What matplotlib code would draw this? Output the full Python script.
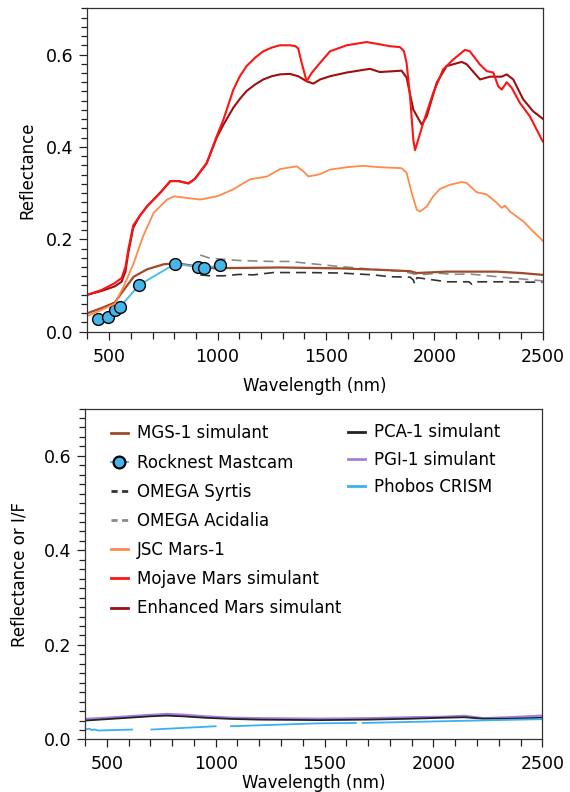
import numpy as np
import matplotlib
matplotlib.use("Agg")
import matplotlib.pyplot as plt
from matplotlib.ticker import MultipleLocator

plt.rcParams['font.family'] = ['DejaVu Sans']

# ---- top panel spectra (wavelength nm, reflectance) ----
mgs_wl = [400, 464, 525, 567, 613, 675, 752, 813, 890, 982, 1100, 1290, 1565,
          1749, 1888, 1919, 2057, 2288, 2400, 2500]
mgs_r = [0.040, 0.051, 0.063, 0.090, 0.119, 0.135, 0.146, 0.148, 0.1425, 0.1375,
         0.138, 0.139, 0.137, 0.134, 0.131, 0.127, 0.130, 0.130, 0.127, 0.123]

mastcam_wl = [447, 493, 527, 551, 638, 805, 908, 937, 1012]
mastcam_r = [0.027, 0.0325, 0.047, 0.054, 0.101, 0.147, 0.140, 0.1375, 0.144]

syrtis_wl = [920, 965, 1027, 1100, 1165, 1257, 1411, 1565, 1718, 1795, 1888,
             1903, 1910, 1920, 2057, 2160, 2172, 2185, 2300, 2500]
syrtis_r = [0.123, 0.121, 0.121, 0.124, 0.123, 0.128, 0.128, 0.127, 0.123, 0.119,
            0.118, 0.112, 0.103, 0.117, 0.108, 0.108, 0.103, 0.108, 0.108, 0.107]

acidalia_wl = [920, 965, 1103, 1257, 1334, 1457, 1565, 1718, 1795, 1856, 1905,
               1960, 2012, 2087, 2160, 2311, 2500]
acidalia_r = [0.166, 0.159, 0.154, 0.152, 0.152, 0.146, 0.141, 0.135, 0.132,
              0.131, 0.125, 0.124, 0.127, 0.124, 0.125, 0.118, 0.110]

jsc_wl = [400, 464, 525, 567, 613, 655, 705, 767, 800, 850, 920, 998, 1072,
          1150, 1229, 1288, 1365, 1396, 1419, 1473, 1519, 1596, 1672, 1749, 1849,
          1872, 1896, 1919, 1934, 1965, 1995, 2026, 2072, 2126, 2149, 2195, 2242,
          2288, 2311, 2326, 2349, 2410, 2456, 2500]
jsc_r = [0.034, 0.047, 0.060, 0.098, 0.148, 0.205, 0.257, 0.286, 0.293, 0.290,
         0.286, 0.293, 0.308, 0.330, 0.336, 0.352, 0.358, 0.347, 0.336, 0.341,
         0.351, 0.356, 0.359, 0.356, 0.354, 0.344, 0.300, 0.264, 0.260, 0.271,
         0.293, 0.309, 0.318, 0.324, 0.322, 0.302, 0.297, 0.279, 0.268, 0.273,
         0.260, 0.239, 0.217, 0.197]

mojave_wl = [400, 464, 525, 557, 575, 588, 611, 640, 676, 736, 782, 820, 866,
             896, 950, 996, 1027, 1073, 1103, 1134, 1173, 1211, 1250, 1288, 1334,
             1360, 1372, 1388, 1411, 1434, 1473, 1519, 1596, 1688, 1749, 1795,
             1842, 1860, 1872, 1888, 1903, 1911, 1926, 1949, 1995, 2041, 2087,
             2141, 2164, 2211, 2242, 2272, 2295, 2311, 2334, 2357, 2395, 2441,
             2500]
mojave_r = [0.080, 0.090, 0.105, 0.116, 0.140, 0.177, 0.230, 0.250, 0.272, 0.301,
            0.326, 0.326, 0.321, 0.331, 0.365, 0.423, 0.459, 0.524, 0.553, 0.575,
            0.593, 0.607, 0.615, 0.620, 0.620, 0.618, 0.613, 0.582, 0.542, 0.560,
            0.582, 0.607, 0.620, 0.627, 0.622, 0.618, 0.616, 0.607, 0.582, 0.510,
            0.416, 0.393, 0.416, 0.452, 0.517, 0.568, 0.589, 0.610, 0.607, 0.578,
            0.564, 0.561, 0.531, 0.524, 0.540, 0.528, 0.495, 0.466, 0.412]

enhanced_wl = [400, 464, 525, 557, 575, 588, 611, 640, 676, 736, 782, 820, 866,
               896, 950, 996, 1027, 1073, 1103, 1134, 1173, 1211, 1250, 1288,
               1334, 1372, 1411, 1442, 1473, 1519, 1596, 1703, 1749, 1849, 1872,
               1903, 1942, 1965, 2011, 2057, 2126, 2149, 2211, 2257, 2311, 2334,
               2364, 2410, 2456, 2500]
enhanced_r = [0.080, 0.088, 0.098, 0.108, 0.130, 0.170, 0.225, 0.250, 0.272,
              0.301, 0.326, 0.326, 0.321, 0.331, 0.365, 0.420, 0.448, 0.485,
              0.504, 0.521, 0.535, 0.546, 0.553, 0.557, 0.558, 0.553, 0.542,
              0.537, 0.546, 0.553, 0.561, 0.569, 0.562, 0.565, 0.550, 0.481,
              0.448, 0.466, 0.539, 0.575, 0.584, 0.579, 0.546, 0.552, 0.552,
              0.557, 0.546, 0.503, 0.477, 0.461]

# ---- bottom panel spectra ----
pca_wl = [400, 500, 600, 700, 775, 850, 950, 1070, 1200, 1479, 1700, 1900, 2045,
          2143, 2229, 2350, 2500]
pca_r = [0.040, 0.043, 0.046, 0.049, 0.0505, 0.049, 0.046, 0.0435, 0.042, 0.041,
         0.042, 0.044, 0.046, 0.047, 0.044, 0.044, 0.046]

pgi_wl = pca_wl
pgi_r = [0.0435, 0.046, 0.049, 0.052, 0.054, 0.0525, 0.049, 0.046, 0.045, 0.044,
         0.045, 0.047, 0.048, 0.050, 0.045, 0.047, 0.0505]

# nan marks gaps in the CRISM coverage
phobos_wl = [400, 420, 430, 445, 460, 500, 616, 660, 705, 1000, 1035, 1070, 1460,
             1644, 1660, 1675, 2045, 2500]
phobos_r = [0.021, 0.023, 0.020, 0.021, 0.019, 0.0195, 0.021, np.nan, 0.021,
            0.028, np.nan, 0.028, 0.034, 0.035, np.nan, 0.035, 0.0386, 0.043]

C_MGS = '#a04a2a'
C_MAST = '#4fbcec'
C_SYR = '#333333'
C_ACI = '#8a8a8a'
C_JSC = '#ff8a4a'
C_MOJ = '#ff1414'
C_ENH = '#9e1010'
C_PCA = '#222222'
C_PGI = '#a57ee0'
C_PHO = '#3ab0f0'

fig = plt.figure(figsize=(5.7, 7.92), dpi=100)
ax1 = fig.add_axes([0.1535, 0.5812, 0.7986, 0.4083])
ax2 = fig.add_axes([0.1491, 0.0663, 0.8023, 0.4179])

dash = (6, 3.6)

ax1.plot(acidalia_wl, acidalia_r, color=C_ACI, lw=1.2, dashes=dash)
ax1.plot(syrtis_wl, syrtis_r, color=C_SYR, lw=1.2, dashes=dash)
ax1.plot(mgs_wl, mgs_r, color=C_MGS, lw=1.6)
ax1.plot(mastcam_wl, mastcam_r, color=C_MAST, lw=1.4, marker='o', ms=8.5,
         mfc='#46b6ea', mec='black', mew=1.0)
ax1.plot(jsc_wl, jsc_r, color=C_JSC, lw=1.3)
ax1.plot(enhanced_wl, enhanced_r, color=C_ENH, lw=1.5)
ax1.plot(mojave_wl, mojave_r, color=C_MOJ, lw=1.5)

ax2.plot(pgi_wl, pgi_r, color=C_PGI, lw=1.6)
ax2.plot(pca_wl, pca_r, color=C_PCA, lw=1.3)
ax2.plot(phobos_wl, phobos_r, color=C_PHO, lw=1.3)

for ax in (ax1, ax2):
    ax.set_xlim(400, 2500)
    ax.set_ylim(0, 0.7)
    ax.xaxis.set_major_locator(MultipleLocator(500))
    ax.xaxis.set_minor_locator(MultipleLocator(100))
    ax.yaxis.set_major_locator(MultipleLocator(0.2))
    ax.yaxis.set_minor_locator(MultipleLocator(0.02))
    ax.tick_params(axis='both', which='both', direction='out', labelsize=12.5,
                   top=False, right=False, color='#222222')
    ax.tick_params(axis='x', which='major', length=5.5, width=0.9, pad=6)
    ax.tick_params(axis='x', which='minor', length=5.0, width=0.9)
    ax.tick_params(axis='y', which='major', length=6, width=0.9, pad=4)
    ax.tick_params(axis='y', which='minor', length=4, width=0.9)
    ax.yaxis.set_major_formatter(matplotlib.ticker.FormatStrFormatter('%.1f'))
    for s in ax.spines.values():
        s.set_linewidth(0.9)
        s.set_color('#333333')

ax1.set_xlabel('Wavelength (nm)', fontsize=12)
ax1.set_ylabel('Reflectance', fontsize=12)
ax1.xaxis.set_label_coords(0.5, -0.140)
ax1.yaxis.set_label_coords(-0.113, 0.5)

ax2.set_xlabel('Wavelength (nm)', fontsize=12)
ax2.set_ylabel('Reflectance or I/F', fontsize=12)
ax2.xaxis.set_label_coords(0.5, -0.104)
ax2.yaxis.set_label_coords(-0.123, 0.5)

# legend handles live in the lower panel
h_mgs, = ax2.plot([], [], color=C_MGS, lw=2)
h_mast, = ax2.plot([], [], color=C_MAST, lw=1.4, marker='o', ms=8.5,
                   mfc='#46b6ea', mec='black', mew=1.6)
h_syr, = ax2.plot([], [], color=C_SYR, lw=2, dashes=(2.2, 1.6))
h_aci, = ax2.plot([], [], color=C_ACI, lw=2, dashes=(2.2, 1.6))
h_jsc, = ax2.plot([], [], color=C_JSC, lw=2)
h_moj, = ax2.plot([], [], color=C_MOJ, lw=2)
h_enh, = ax2.plot([], [], color=C_ENH, lw=2)
h_pca, = ax2.plot([], [], color=C_PCA, lw=2)
h_pgi, = ax2.plot([], [], color=C_PGI, lw=2)
h_pho, = ax2.plot([], [], color=C_PHO, lw=2)

leg1 = ax2.legend([h_mgs, h_mast, h_syr, h_aci, h_jsc, h_moj, h_enh],
                  ['MGS-1 simulant', 'Rocknest Mastcam', 'OMEGA Syrtis',
                   'OMEGA Acidalia', 'JSC Mars-1', 'Mojave Mars simulant',
                   'Enhanced Mars simulant'],
                  loc='upper left', bbox_to_anchor=(0.057, 0.952), frameon=False,
                  borderpad=0, borderaxespad=0, fontsize=12, handlelength=1.0,
                  handletextpad=0.55, labelspacing=0.67)
ax2.add_artist(leg1)
ax2.legend([h_pca, h_pgi, h_pho],
           ['PCA-1 simulant', 'PGI-1 simulant', 'Phobos CRISM'],
           loc='upper left', bbox_to_anchor=(0.575, 0.955), frameon=False,
           borderpad=0, borderaxespad=0, fontsize=12, handlelength=1.0,
           handletextpad=0.55, labelspacing=0.56)

fig.savefig('out.png', dpi=100)
